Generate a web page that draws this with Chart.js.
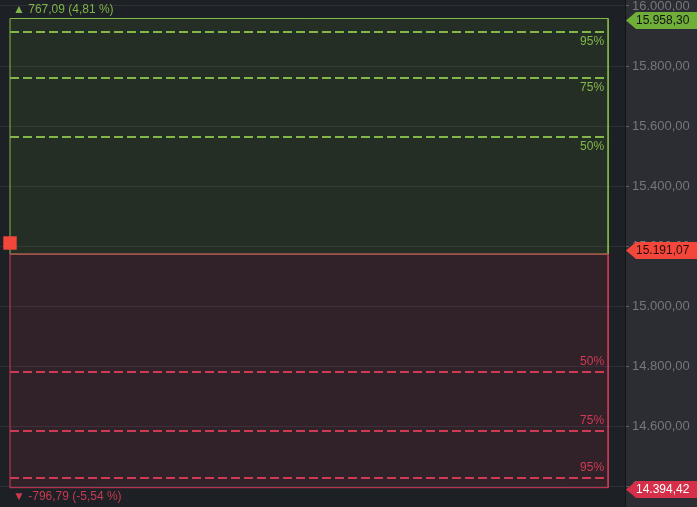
<!DOCTYPE html>
<html>
<head>
<meta charset="utf-8">
<script src="https://cdn.jsdelivr.net/npm/chart.js@4.4.1/dist/chart.umd.min.js"></script>
<style>
  html, body { margin: 0; padding: 0; background: #1d2025; }
  #wrap { width: 697px; height: 507px; }
</style>
</head>
<body>
<div id="wrap"><canvas id="chart" width="697" height="507"></canvas></div>
<script>
const tickValues = [14400, 14600, 14800, 15000, 15200, 15400, 15600, 15800, 16000];
const upperBound = 15958.30;
const lowerBound = 14394.42;
const lastPrice = 15191.07;
const boxSplit = 15173;
const markerPrice = 15210;
const upperLevels = [15913, 15760, 15563];
const upperLabels = ['95%', '75%', '50%'];
const lowerLevels = [14780, 14583, 14427];
const lowerLabels = ['50%', '75%', '95%'];
const upText = '\u25B2 767,09 (4,81 %)';
const downText = '\u25BC -796,79 (-5,54 %)';

// Layout (x-Achse 0..100, versteckt)
const X_LEFT = 1.6;
const X_RIGHT = 97.3;
const FONT = '"Liberation Sans", Arial, sans-serif';

const GREEN = '#83b849';
const RED = '#cf3a55';

function fmt(v) {
  const parts = v.toFixed(2).split('.');
  return parts[0].replace(/\B(?=(\d{3})+(?!\d))/g, '.') + ',' + parts[1];
}

function box(lo, hi) {
  return [
    { x: X_LEFT, y: lo }, { x: X_LEFT, y: hi },
    { x: X_RIGHT, y: hi }, { x: X_RIGHT, y: lo },
    { x: X_LEFT, y: lo }
  ];
}

function levelLine(v, color) {
  return {
    data: [{ x: X_LEFT, y: v }, { x: X_RIGHT, y: v }],
    showLine: true,
    borderColor: color,
    borderWidth: 2,
    borderDash: [9, 4],
    pointRadius: 0,
    fill: false
  };
}

// erster Datensatz liegt oben
const datasets = [
  {
    data: [{ x: X_LEFT, y: markerPrice }],
    pointStyle: 'rect',
    pointRadius: 9.5,
    backgroundColor: '#f2463a',
    borderColor: '#f2463a',
    borderWidth: 0
  },
  ...upperLevels.map(v => levelLine(v, GREEN)),
  ...lowerLevels.map(v => levelLine(v, RED)),
  {
    data: box(lowerBound, boxSplit),
    showLine: true,
    fill: 'shape',
    backgroundColor: 'rgba(220, 50, 80, 0.11)',
    borderColor: RED,
    borderWidth: 1,
    pointRadius: 0
  },
  {
    data: box(boxSplit, upperBound),
    showLine: true,
    fill: 'shape',
    backgroundColor: 'rgba(110, 190, 40, 0.09)',
    borderColor: GREEN,
    borderWidth: 1,
    pointRadius: 0
  }
];

const backgroundPlugin = {
  id: 'bg',
  beforeDraw(chart) {
    const { ctx, chartArea } = chart;
    ctx.save();
    ctx.fillStyle = '#1d2025';
    ctx.fillRect(0, 0, chart.width, chart.height);
    ctx.fillStyle = '#2b2d32';
    ctx.fillRect(chartArea.right, 0, chart.width - chartArea.right, chart.height);
    ctx.restore();
  }
};

const labelPlugin = {
  id: 'labels',
  afterDraw(chart) {
    const { ctx, chartArea, scales } = chart;
    const y = scales.y;
    const xs = scales.x;
    const right = xs.getPixelForValue(X_RIGHT) - 4;
    ctx.save();
    ctx.font = '12px ' + FONT;
    ctx.textBaseline = 'middle';

    // Prozent-Beschriftungen
    ctx.textAlign = 'right';
    ctx.fillStyle = GREEN;
    upperLevels.forEach((v, i) => ctx.fillText(upperLabels[i], right, y.getPixelForValue(v) + 10));
    ctx.fillStyle = RED;
    lowerLevels.forEach((v, i) => ctx.fillText(lowerLabels[i], right, y.getPixelForValue(v) - 10));

    // Texte oben/unten
    ctx.textAlign = 'left';
    ctx.fillStyle = '#7fb347';
    ctx.fillText(upText, 13, 10);
    ctx.fillStyle = '#c93a52';
    ctx.fillText(downText, 13, 497);

    // Preisschilder an der Achse
    const tags = [
      { v: upperBound, bg: '#6fae38', fg: '#111111', dy: 1.5 },
      { v: lastPrice, bg: '#f4473b', fg: '#2a0a08', dy: 1 },
      { v: lowerBound, bg: '#d52f49', fg: '#ffffff', dy: 1 }
    ];
    const x0 = chartArea.right;
    tags.forEach(t => {
      const cy = Math.round(y.getPixelForValue(t.v) + t.dy) + 0.5;
      ctx.beginPath();
      ctx.moveTo(x0 + 1, cy);
      ctx.lineTo(x0 + 11, cy - 8.5);
      ctx.lineTo(chart.width, cy - 8.5);
      ctx.lineTo(chart.width, cy + 8.5);
      ctx.lineTo(x0 + 11, cy + 8.5);
      ctx.closePath();
      ctx.fillStyle = t.bg;
      ctx.fill();
      ctx.fillStyle = t.fg;
      ctx.textAlign = 'left';
      ctx.fillText(fmt(t.v), x0 + 11, cy + 0.5);
    });
    ctx.restore();
  }
};

new Chart(document.getElementById('chart'), {
  type: 'scatter',
  data: { datasets },
  options: {
    responsive: false,
    animation: false,
    devicePixelRatio: 1,
    layout: { padding: 0, autoPadding: false },
    plugins: {
      legend: { display: false },
      tooltip: { enabled: false }
    },
    scales: {
      x: { type: 'linear', min: 0, max: 100, display: false },
      y: {
        position: 'right',
        min: 14330,
        max: 16020,
        afterBuildTicks(scale) {
          scale.ticks = tickValues.map(v => ({ value: v }));
        },
        afterFit(scale) {
          scale.width = 72;
          scale.paddingTop = 0;
          scale.paddingBottom = 0;
          scale.paddingLeft = 0;
          scale.paddingRight = 0;
        },
        grid: {
          color: '#2c3035',
          tickColor: '#5d6066',
          tickLength: 4
        },
        border: { display: true, color: '#121417' },
        ticks: {
          color: '#74777d',
          padding: 3,
          font: { family: FONT, size: 13 },
          callback: v => fmt(v)
        }
      }
    }
  },
  plugins: [backgroundPlugin, labelPlugin]
});
</script>
</body>
</html>
